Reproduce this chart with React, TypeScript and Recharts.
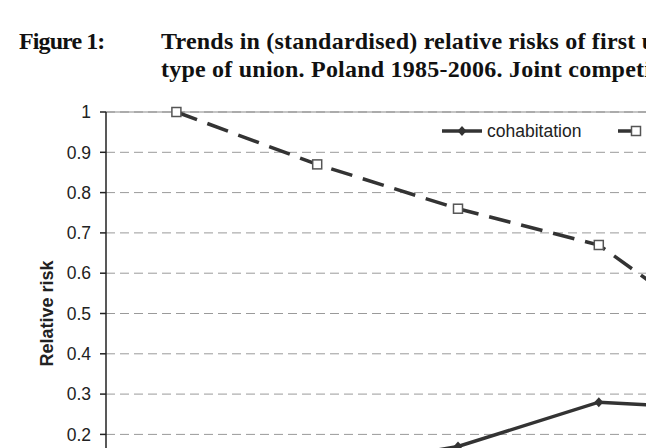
import React from "react";
import { LineChart, Line, XAxis, YAxis, CartesianGrid, ReferenceLine, Legend } from "recharts";

// periods of the competing-risks model (axis labels fall below the visible crop)
const periods = ["1985-1989", "1990-1993", "1994-1997", "1998-2001", "2002-2006"];
const cohabitation = [0.09, 0.11, 0.17, 0.28, 0.26];
const marriage = [1, 0.87, 0.76, 0.67, 0.42];
const yTicks = [0, 0.1, 0.2, 0.3, 0.4, 0.5, 0.6, 0.7, 0.8, 0.9, 1];

const titleLabel = "Figure 1:";
const titleLines = [
  "Trends in (standardised) relative risks of first union",
  "type of union. Poland 1985-2006. Joint competing",
];

const data = periods.map((p, i) => ({
  period: p,
  cohabitation: cohabitation[i],
  marriage: marriage[i],
}));

const INK = "#333";
const SANS = "'Liberation Sans', Arial, sans-serif";
const SERIF = "'Liberation Serif', 'Times New Roman', serif";

function Diamond(props: any) {
  const { cx, cy } = props;
  if (cx == null || cy == null) return null;
  return (
    <path
      d={`M${cx},${cy - 5} L${cx + 4.5},${cy} L${cx},${cy + 5} L${cx - 4.5},${cy} Z`}
      fill={INK}
    />
  );
}

function OpenSquare(props: any) {
  const { cx, cy } = props;
  if (cx == null || cy == null) return null;
  return (
    <rect x={cx - 4.5} y={cy - 4.5} width={9} height={9} fill="#fff" stroke="#555" strokeWidth={1.5} />
  );
}

function ChartLegend() {
  return (
    <svg width={206} height={26} style={{ display: "block", overflow: "visible" }}>
      <line x1={2} y1={13} x2={42} y2={13} stroke={INK} strokeWidth={3.5} />
      <Diamond cx={22} cy={13} />
      <text x={47} y={13} dominantBaseline="central" fontFamily={SANS} fontSize={17.5} fill="#222">
        cohabitation
      </text>
      <line x1={178} y1={13} x2={218} y2={13} stroke={INK} strokeWidth={3.5} strokeDasharray="22 11" />
      <OpenSquare cx={196} cy={13} />
    </svg>
  );
}

export default function App() {
  return (
    <div
      style={{
        position: "fixed",
        left: 0,
        top: 0,
        width: 646,
        height: 448,
        overflow: "hidden",
        background: "#fff",
      }}
    >
      <div
        style={{
          position: "absolute",
          left: 19,
          top: 28,
          fontFamily: SERIF,
          fontWeight: "bold",
          fontSize: 24,
          letterSpacing: -0.9,
          lineHeight: "27.5px",
          whiteSpace: "nowrap",
          color: "#111",
        }}
      >
        {titleLabel}
      </div>
      <div
        style={{
          position: "absolute",
          left: 161,
          top: 28,
          fontFamily: SERIF,
          fontWeight: "bold",
          fontSize: 24,
          letterSpacing: 0.22,
          lineHeight: "27.5px",
          whiteSpace: "nowrap",
          color: "#111",
        }}
      >
        {titleLines.map((t) => (
          <div key={t}>{t}</div>
        ))}
      </div>

      <div style={{ position: "absolute", left: 0, top: 0 }}>
        <LineChart
          width={830}
          height={600}
          data={data}
          margin={{ top: 112, right: 20, bottom: 55, left: 0 }}
        >
          <CartesianGrid vertical={false} stroke="#9a9a9a" strokeDasharray="9 5" />
          <ReferenceLine y={1} stroke="#8a8a8a" strokeWidth={1.2} />
          <XAxis
            dataKey="period"
            scale="band"
            tick={false}
            height={30}
            stroke="#222"
            strokeWidth={1.5}
          />
          <YAxis
            type="number"
            domain={[0, 1]}
            ticks={yTicks}
            width={106}
            tickSize={6}
            tickMargin={9}
            stroke="#222"
            strokeWidth={1.5}
            tick={{ fill: "#222", fontFamily: SANS, fontSize: 17.5 }}
            tickFormatter={(v: number) => String(Math.round(v * 10) / 10)}
            label={{
              content: (props: any) => {
                const vb = props.viewBox || {};
                const cy = (vb.y ?? 112) + (vb.height ?? 403) / 2;
                return (
                  <text
                    x={47}
                    y={cy}
                    transform={`rotate(-90 47 ${cy})`}
                    textAnchor="middle"
                    dominantBaseline="central"
                    fontFamily={SANS}
                    fontWeight="bold"
                    fontSize={18}
                    fill="#222"
                  >
                    Relative risk
                  </text>
                );
              },
            }}
          />
          <Legend
            layout="horizontal"
            verticalAlign="middle"
            align="center"
            wrapperStyle={{ left: 440, top: 118, width: 206 }}
            content={() => <ChartLegend />}
          />
          <Line
            dataKey="cohabitation"
            name="cohabitation"
            type="linear"
            stroke={INK}
            strokeWidth={3.5}
            dot={<Diamond />}
            activeDot={false}
            isAnimationActive={false}
          />
          <Line
            dataKey="marriage"
            name="marriage"
            type="linear"
            stroke={INK}
            strokeWidth={3.5}
            strokeDasharray="22 11"
            dot={<OpenSquare />}
            activeDot={false}
            isAnimationActive={false}
          />
        </LineChart>
      </div>
    </div>
  );
}
